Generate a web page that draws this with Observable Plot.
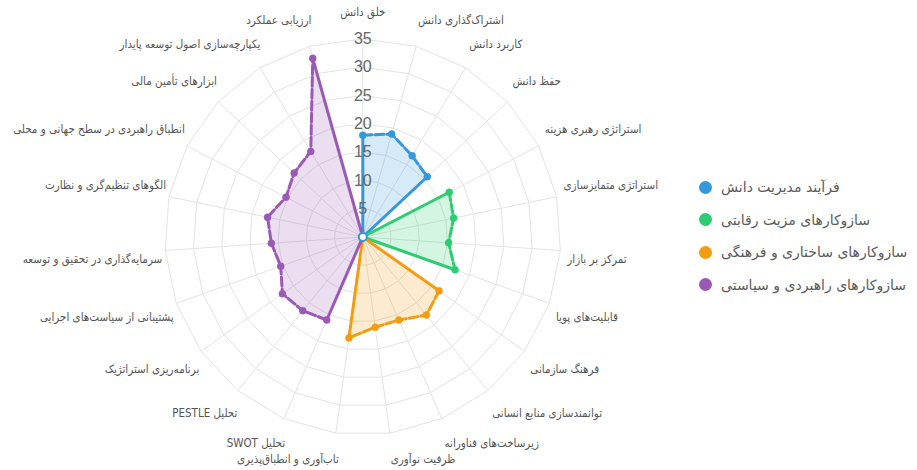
<!DOCTYPE html>
<html><head><meta charset="utf-8">
<script src="https://cdn.jsdelivr.net/npm/d3@7"></script>
<script src="https://cdn.jsdelivr.net/npm/@observablehq/plot@0.6"></script>
<style>
body{margin:0;background:#fff;}
#wrap{position:relative;width:917px;height:470px;overflow:hidden;}
#legend{position:absolute;left:699px;top:171px;font-family:"DejaVu Sans",sans-serif;font-size:14px;color:#5a5a5a;}
.item{display:flex;align-items:center;height:32.5px;}
.sw{width:13px;height:13px;border-radius:50%;margin-right:9px;flex:none;}
.item span{direction:rtl;unicode-bidi:embed;white-space:nowrap;}
</style></head><body><div id="wrap"></div>
<script>
// ---- data ----
const axes = [
  "خلق دانش",
  "اشتراک‌گذاری دانش",
  "کاربرد دانش",
  "حفظ دانش",
  "استراتژی رهبری هزینه",
  "استراتژی متمایزسازی",
  "تمرکز بر بازار",
  "قابلیت‌های پویا",
  "فرهنگ سازمانی",
  "توانمندسازی منابع انسانی",
  "زیرساخت‌های فناورانه",
  "ظرفیت نوآوری",
  "تاب‌آوری و انطباق‌پذیری",
  "تحلیل SWOT",
  "تحلیل PESTLE",
  "برنامه‌ریزی استراتژیک",
  "پشتیبانی از سیاست‌های اجرایی",
  "سرمایه‌گذاری در تحقیق و توسعه",
  "الگوهای تنظیم‌گری و نظارت",
  "انطباق راهبردی در سطح جهانی و محلی",
  "ابزارهای تأمین مالی",
  "یکپارچه‌سازی اصول توسعه پایدار",
  "ارزیابی عملکرد"
];
const seriesNames = [
  "فرآیند مدیریت دانش",
  "سازوکارهای مزیت رقابتی",
  "سازوکارهای ساختاری و فرهنگی",
  "سازوکارهای راهبردی و سیاستی"
];
const seriesColors = ["#3498db", "#2ecc71", "#f39c12", "#9b59b6"];
const kmValues = [18.0, 18.9, 16.8, 15.6, 0, 0, 0, 0, 0, 0, 0, 0, 0, 0, 0, 0, 0, 0, 0, 0, 0, 0, 0];
const caValues = [0, 0, 0, 0, 17.2, 16.4, 15.2, 17.3, 0, 0, 0, 0, 0, 0, 0, 0, 0, 0, 0, 0, 0, 0, 0];
const scValues = [0, 0, 0, 0, 0, 0, 0, 0, 16.5, 17.8, 16.0, 16.1, 18.0, 0, 0, 0, 0, 0, 0, 0, 0, 0, 0];
const spValues = [0, 0, 0, 0, 0, 0, 0, 0, 0, 0, 0, 0, 0, 16.0, 16.8, 17.4, 15.4, 16.2, 17.2, 15.3, 16.6, 17.7, 32.8];
const tickValues = [5, 10, 15, 20, 25, 30, 35];
const maxValue = 35;

// ---- layout ----
const W = 917, H = 470, CX = 362.3, CY = 236.5, R = 198;
const k = maxValue / R; // data units per pixel
const labelRX = 205 * k, labelRY = 217 * k;
const N = axes.length;
const ang = i => 2 * Math.PI * i / N;
const X = (i, v) => v * Math.sin(ang(i));
const Y = (i, v) => v * Math.cos(ang(i));

const allSeries = [kmValues, caValues, scValues, spValues].map((vals, s) => ({
  name: seriesNames[s], color: seriesColors[s],
  pts: vals.map((v, i) => ({i, v, x: X(i, v), y: Y(i, v)}))
}));

const rings = tickValues.flatMap(t => d3.range(N).map(i => ({t, x: X(i, t), y: Y(i, t)})));
const spokes = d3.range(N).map(i => ({x2: X(i, maxValue), y2: Y(i, maxValue)}));

const marks = [];
marks.push(Plot.line(rings, {x: "x", y: "y", z: "t", curve: "linear-closed", stroke: "#e3e3e3", strokeWidth: 1}));
marks.push(Plot.link(spokes, {x1: 0, y1: 0, x2: "x2", y2: "y2", stroke: "#e3e3e3", strokeWidth: 1}));

for (const s of allSeries) {
  marks.push(Plot.line(s.pts, {x: "x", y: "y", curve: "linear-closed", fill: s.color, fillOpacity: 0.2, stroke: "none"}));
}
for (const s of allSeries) {
  const nz = s.pts.filter(p => p.v > 0);
  const ends = [nz[0], nz[nz.length - 1]];
  marks.push(Plot.link(ends, {x1: 0, y1: 0, x2: "x", y2: "y", stroke: s.color, strokeWidth: 3}));
  marks.push(Plot.line(nz, {x: "x", y: "y", stroke: s.color, strokeWidth: 3, strokeDasharray: "9,3", curve: "linear"}));
  marks.push(Plot.dot(nz, {x: "x", y: "y", r: 3.5, fill: s.color, stroke: s.color, strokeWidth: 0.5}));
}
marks.push(Plot.dot([0], {x: 0, y: 0, r: 4, fill: "white", stroke: seriesColors[0], strokeWidth: 2}));

marks.push(Plot.text(tickValues, {x: 0, y: d => d, text: d => String(d), fontSize: 16, fill: "#666", fontFamily: "Liberation Sans, Arial, sans-serif"}));

axes.forEach((name, i) => {
  const sx = Math.sin(ang(i)), cy = Math.cos(ang(i));
  const anchor = Math.abs(sx) < 0.05 ? "middle" : (sx > 0 ? "start" : "end");
  marks.push(Plot.text([i], {
    x: d => labelRX * Math.sin(ang(d)), y: d => labelRY * Math.cos(ang(d)),
    text: d => "\u202B" + axes[d] + "\u202C",
    textAnchor: anchor, lineAnchor: "middle",
    dy: cy > 0 ? -7.5 : 7.5, dx: sx < -0.05 ? 4 : 0,
    fontSize: 11.5, fill: "#555", fontFamily: "DejaVu Sans Condensed, DejaVu Sans, sans-serif"
  }));
});

const chart = Plot.plot({
  width: W, height: H,
  margin: 0,
  x: {domain: [-CX * k, (W - CX) * k], axis: null},
  y: {domain: [-(H - CY) * k, CY * k], axis: null},
  style: {background: "white", overflow: "visible"},
  marks
});
const wrap = document.getElementById("wrap");
wrap.appendChild(chart);

const legend = document.createElement("div");
legend.id = "legend";
seriesNames.forEach((n, s) => {
  const it = document.createElement("div");
  it.className = "item";
  const sw = document.createElement("div");
  sw.className = "sw";
  sw.style.background = seriesColors[s];
  const sp = document.createElement("span");
  sp.textContent = n;
  it.appendChild(sw); it.appendChild(sp);
  legend.appendChild(it);
});
wrap.appendChild(legend);
</script></body></html>
